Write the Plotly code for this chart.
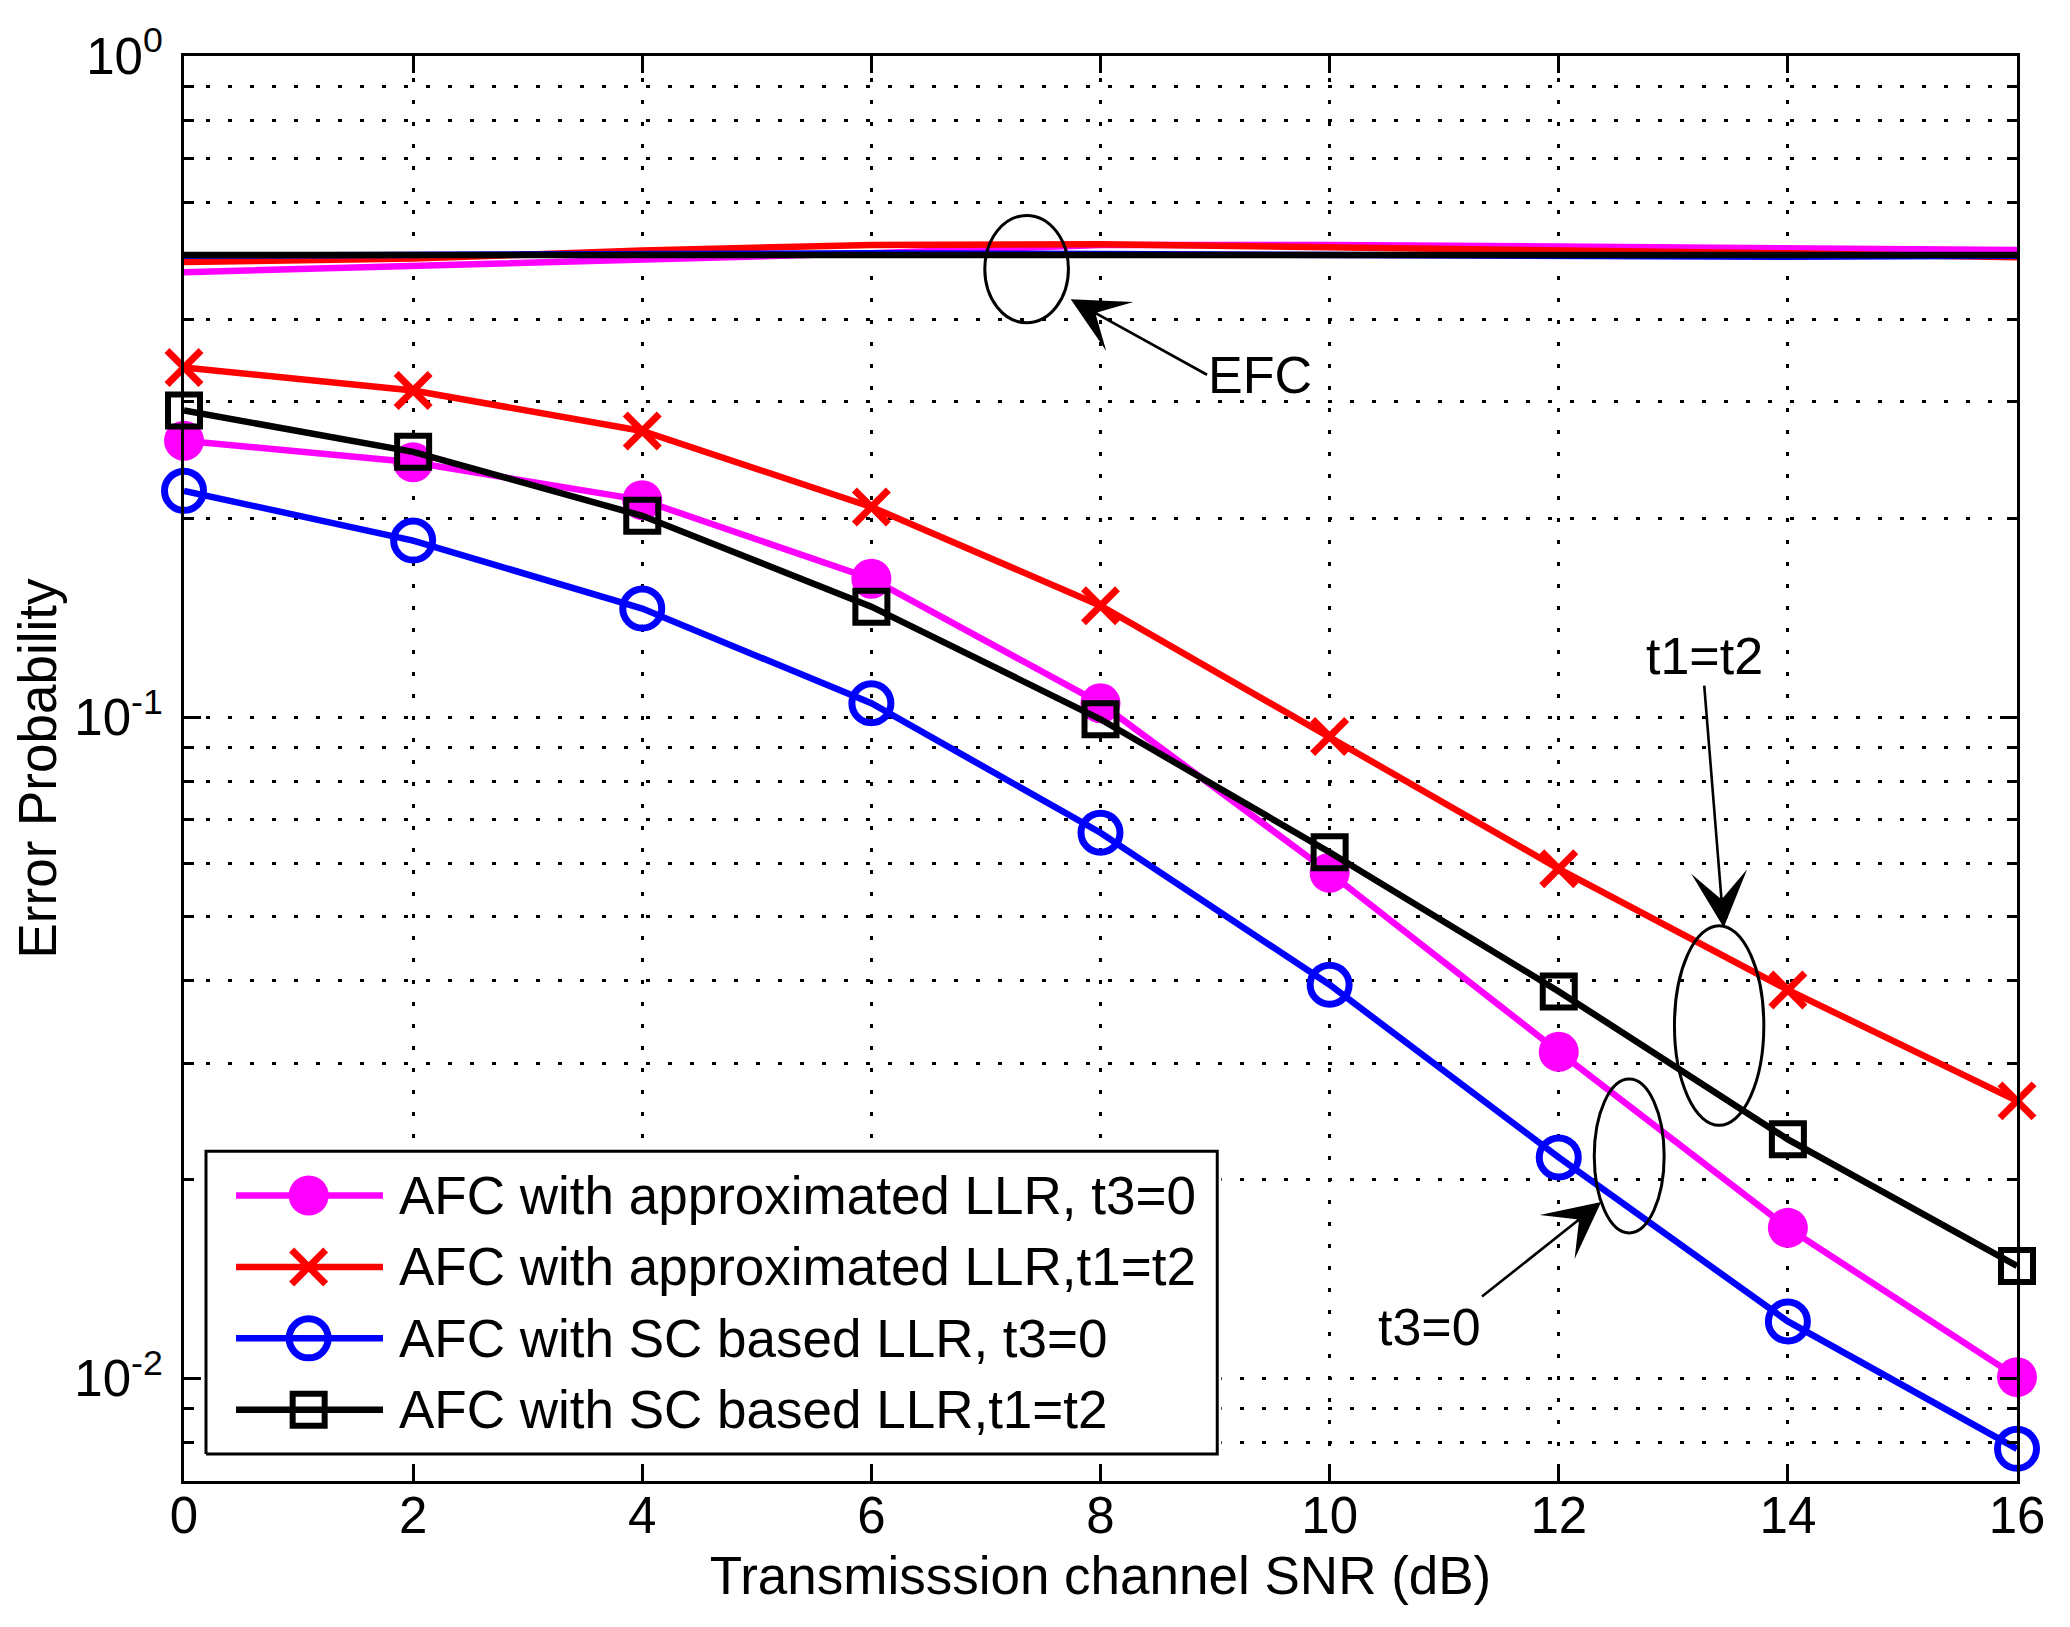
import math
import plotly.graph_objects as go

# ---------------- data ----------------
snr_db = [0, 2, 4, 6, 8, 10, 12, 14, 16]

afc_approx_t3 = [0.262, 0.243, 0.213, 0.162, 0.105, 0.0582, 0.0312, 0.0169, 0.01005]
afc_approx_t1t2 = [0.338, 0.312, 0.271, 0.208, 0.1475, 0.0935, 0.059, 0.0387, 0.0263]
afc_sc_t3 = [0.220, 0.185, 0.146, 0.105, 0.0669, 0.0394, 0.0216, 0.0122, 0.00783]
afc_sc_t1t2 = [0.291, 0.252, 0.2017, 0.147, 0.0993, 0.0625, 0.0385, 0.023, 0.0148]

efc_approx_t3 = [0.471, 0.481, 0.490, 0.503, 0.518, 0.518, 0.515, 0.512, 0.509]
efc_approx_t1t2 = [0.488, 0.494, 0.508, 0.518, 0.519, 0.514, 0.508, 0.503, 0.496]
efc_sc_t3 = [0.499, 0.501, 0.503, 0.503, 0.502, 0.501, 0.499, 0.497, 0.499]
efc_sc_t1t2 = [0.500, 0.500, 0.500, 0.500, 0.500, 0.500, 0.500, 0.500, 0.500]

series_labels = [
    "AFC with approximated LLR, t3=0",
    "AFC with approximated LLR,t1=t2",
    "AFC with SC based LLR, t3=0",
    "AFC with SC based LLR,t1=t2",
]

x_tick_values = [0, 2, 4, 6, 8, 10, 12, 14, 16]
y_decade_ticks = [0.01, 0.1, 1]
y_decade_labels = ["10<sup>-2</sup>", "10<sup>-1</sup>", "10<sup>0</sup>"]
y_minor_ticks = [0.008, 0.009,
                 0.02, 0.03, 0.04, 0.05, 0.06, 0.07, 0.08, 0.09,
                 0.2, 0.3, 0.4, 0.5, 0.6, 0.7, 0.8, 0.9]

x_title = "Transmisssion channel SNR (dB)"
y_title = "Error Probability"

# ---------------- styles ----------------
FONT = "Liberation Sans, Arial, Helvetica, sans-serif"
colors = ["#ff00ff", "#ff0000", "#0000ff", "#000000"]
symbols = ["circle", "x-thin-open", "circle-open", "square-open"]
msizes = [40, 34, 39, 32]
mlw = [0, 7, 7, 6]
LW = 6.5

afc_series = [afc_approx_t3, afc_approx_t1t2, afc_sc_t3, afc_sc_t1t2]
efc_series = [efc_approx_t3, efc_approx_t1t2, efc_sc_t3, efc_sc_t1t2]


def marker_style(i):
    if symbols[i] == "circle":
        return dict(symbol="circle", size=msizes[i], color=colors[i], line=dict(width=0))
    return dict(symbol=symbols[i], size=msizes[i], color=colors[i],
                line=dict(width=mlw[i], color=colors[i]))


fig = go.Figure()

# EFC curves (no markers)
for i, ys in enumerate(efc_series):
    fig.add_trace(go.Scatter(x=snr_db, y=ys, mode="lines",
                             line=dict(color=colors[i], width=LW),
                             showlegend=False, hoverinfo="skip"))

# AFC curves
for i, ys in enumerate(afc_series):
    fig.add_trace(go.Scatter(x=snr_db, y=ys, mode="lines+markers", name=series_labels[i],
                             line=dict(color=colors[i], width=LW),
                             marker=marker_style(i), cliponaxis=False,
                             showlegend=False))

# ---------------- custom legend (overlay subplot) ----------------
leg_dom_x = [0.0098, 0.5659]
leg_dom_y = [0.0164, 0.2339]
fig.add_trace(go.Scatter(x=[0, 1, 1, 0, 0], y=[0, 0, 1, 1, 0], mode="lines",
                         fill="toself", fillcolor="white",
                         line=dict(color="black", width=3),
                         xaxis="x2", yaxis="y2", showlegend=False, hoverinfo="skip"))
row_top, row_step = 0.854, 0.236
line_x0, line_x1, mark_x, text_x = 0.0297, 0.175, 0.1015, 0.189
legend_annotations = []
for i, lab in enumerate(series_labels):
    ry = row_top - i * row_step
    fig.add_trace(go.Scatter(x=[line_x0, line_x1], y=[ry, ry], mode="lines",
                             line=dict(color=colors[i], width=LW),
                             xaxis="x2", yaxis="y2", showlegend=False, hoverinfo="skip"))
    fig.add_trace(go.Scatter(x=[mark_x], y=[ry], mode="markers", marker=marker_style(i),
                             xaxis="x2", yaxis="y2", showlegend=False, hoverinfo="skip"))
    legend_annotations.append(dict(x=text_x, y=ry, xref="x2", yref="y2", text=lab,
                                   showarrow=False, xanchor="left", yanchor="middle",
                                   font=dict(family=FONT, size=53, color="black")))

# ---------------- annotations (labels with arrows) ----------------
ann_font = dict(family=FONT, size=52, color="black")
arrow_style = dict(xref="x", yref="y", axref="x", ayref="y", showarrow=True,
                   arrowhead=3, arrowsize=3.6, arrowwidth=2.6, arrowcolor="black",
                   standoff=0, startstandoff=0, font=ann_font, borderpad=0)
annotations = legend_annotations + [
    dict(text="EFC", x=7.74, y=-0.368, ax=8.93, ay=-0.482,
         xanchor="left", yanchor="middle", **arrow_style),
    dict(text="t1=t2", x=13.44, y=-1.318, ax=13.27, ay=-0.952,
         xanchor="center", yanchor="bottom", **arrow_style),
    dict(text="t3=0", x=12.37, y=-1.733, ax=11.33, ay=-1.876,
         xanchor="right", yanchor="top", **arrow_style),
]

# ellipses (x in dB, y in probability units)
ellipses = [
    (6.99, 7.72, 0.3950, 0.5740),
    (13.01, 13.79, 0.02415, 0.0484),
    (12.31, 12.92, 0.0166, 0.02838),
]
shapes = [dict(type="circle", xref="x", yref="y", x0=a, x1=b, y0=c, y1=d,
               line=dict(color="black", width=3), layer="above")
          for a, b, c, d in ellipses]

GRID_DASH = "4px,18px"
fig.update_layout(
    width=2054, height=1611,
    margin=dict(l=176, r=45, t=48, b=138),
    paper_bgcolor="white", plot_bgcolor="white",
    font=dict(family=FONT, size=51, color="black"),
    showlegend=False,
    annotations=annotations,
    shapes=shapes,
    xaxis=dict(
        range=[0, 16], tickmode="array", tickvals=x_tick_values,
        ticks="inside", ticklen=17, tickwidth=2.5, tickcolor="black",
        showline=True, linecolor="black", linewidth=3, mirror="ticks",
        showgrid=True, gridcolor="black", gridwidth=2.5, griddash=GRID_DASH,
        zeroline=False, tickfont=dict(family=FONT, size=51),
        ticklabelstandoff=-12,
        title=dict(text=x_title, font=dict(family=FONT, size=53), standoff=14),
    ),
    yaxis=dict(
        type="log", range=[math.log10(0.007), 0], tickmode="array",
        tickvals=y_decade_ticks, ticktext=y_decade_labels,
        ticks="inside", ticklen=17, tickwidth=2.5, tickcolor="black",
        showline=True, linecolor="black", linewidth=3, mirror="ticks",
        showgrid=True, gridcolor="black", gridwidth=2.5, griddash=GRID_DASH,
        zeroline=False, tickfont=dict(family=FONT, size=51),
        ticklabelstandoff=8,
        minor=dict(tickmode="array", tickvals=y_minor_ticks, ticks="inside", ticklen=10,
                   tickwidth=2.5, tickcolor="black", showgrid=True, gridcolor="black",
                   gridwidth=2.5, griddash=GRID_DASH),
        title=dict(text=y_title, font=dict(family=FONT, size=53), standoff=6),
    ),
    xaxis2=dict(domain=leg_dom_x, range=[-0.004, 1.004], anchor="y2", visible=False,
                fixedrange=True),
    yaxis2=dict(domain=leg_dom_y, range=[-0.012, 1.012], anchor="x2", visible=False,
                fixedrange=True),
)

fig.write_html("out.html")
